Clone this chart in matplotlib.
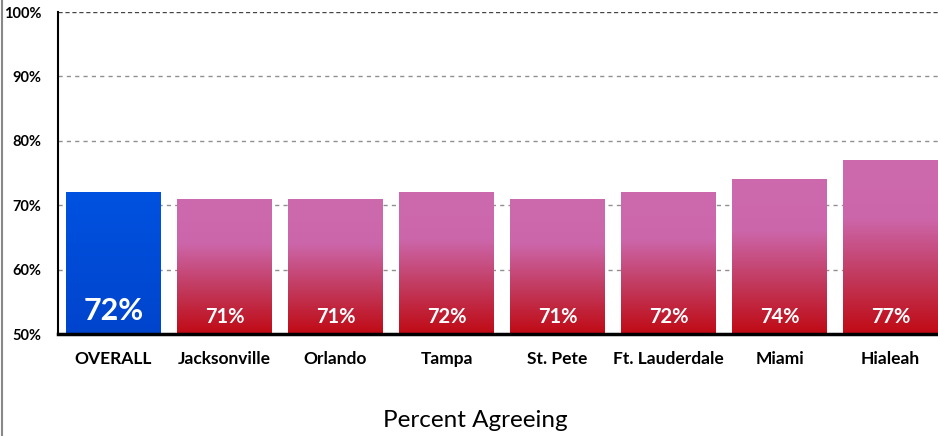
import numpy as np
import matplotlib.pyplot as plt
from matplotlib.colors import LinearSegmentedColormap
from matplotlib.patches import Rectangle

plt.rcParams['font.family'] = ['Lato', 'DejaVu Sans']

cities = ["OVERALL", "Jacksonville", "Orlando", "Tampa", "St. Pete",
          "Ft. Lauderdale", "Miami", "Hialeah"]
values = [72, 71, 71, 72, 71, 72, 74, 77]
yticks = [50, 60, 70, 80, 90, 100]

W, H = 938, 436
fig = plt.figure(figsize=(W / 100, H / 100), dpi=100)
ax = fig.add_axes([58 / W, (H - 334) / H, 888 / W, 322 / H])

ax.set_xlim(-0.5, len(cities) - 0.5)
ax.set_ylim(50, 100)

pink_red = LinearSegmentedColormap.from_list("pr", ["#c00a14", "#c23a5e", "#cc66aa", "#cd6aae"])
blue = LinearSegmentedColormap.from_list("bl", ["#0044cc", "#0052e0"])
grad = np.linspace(0, 1, 256).reshape(-1, 1)

bw = 0.85
for i, v in enumerate(values):
    cmap = blue if i == 0 else pink_red
    im = ax.imshow(grad, cmap=cmap, origin="lower", aspect="auto",
                   extent=[i - bw / 2, i + bw / 2, 50, v], zorder=2)
    clip = Rectangle((i - bw / 2, 50), bw, v - 50, transform=ax.transData)
    im.set_clip_path(clip)
    if i == 0:
        ax.text(i, 53.6, f"{v}%", color="white", fontsize=22, fontweight="bold",
                ha="center", va="center", zorder=3)
    else:
        ax.text(i, 52.7, f"{v}%", color="white", fontsize=14.5, fontweight="bold",
                ha="center", va="center", zorder=3)

ax.set_xlim(-0.5, len(cities) - 0.5)
ax.set_ylim(50, 100)

for y in yticks[1:-1]:
    ax.axhline(y, color="#909090", linestyle=(0, (3, 3)), linewidth=1, zorder=1)
ax.axhline(100, color="#444444", linestyle=(0, (3, 2)), linewidth=1, zorder=1)

ax.set_yticks(yticks)
ax.set_yticklabels([f"{t}%" for t in yticks], fontsize=10.5, fontweight="bold")
ax.set_xticks(range(len(cities)))
ax.set_xticklabels(cities, fontsize=12.5, fontweight="bold")
ax.tick_params(axis="both", length=0)
ax.tick_params(axis="y", pad=12)
ax.tick_params(axis="x", pad=12)

for s in ["top", "right"]:
    ax.spines[s].set_visible(False)
ax.spines["left"].set_linewidth(1.5)
ax.spines["bottom"].set_linewidth(2.5)

fig.text(475 / W, 1 - 420 / H, "Percent Agreeing", fontsize=17.5, ha="center", va="center")

# slide border on the left
fig.add_artist(plt.Line2D([1.5 / W, 1.5 / W], [0, 1], color="#888888", linewidth=1.5))

fig.savefig("out.png", dpi=100)
